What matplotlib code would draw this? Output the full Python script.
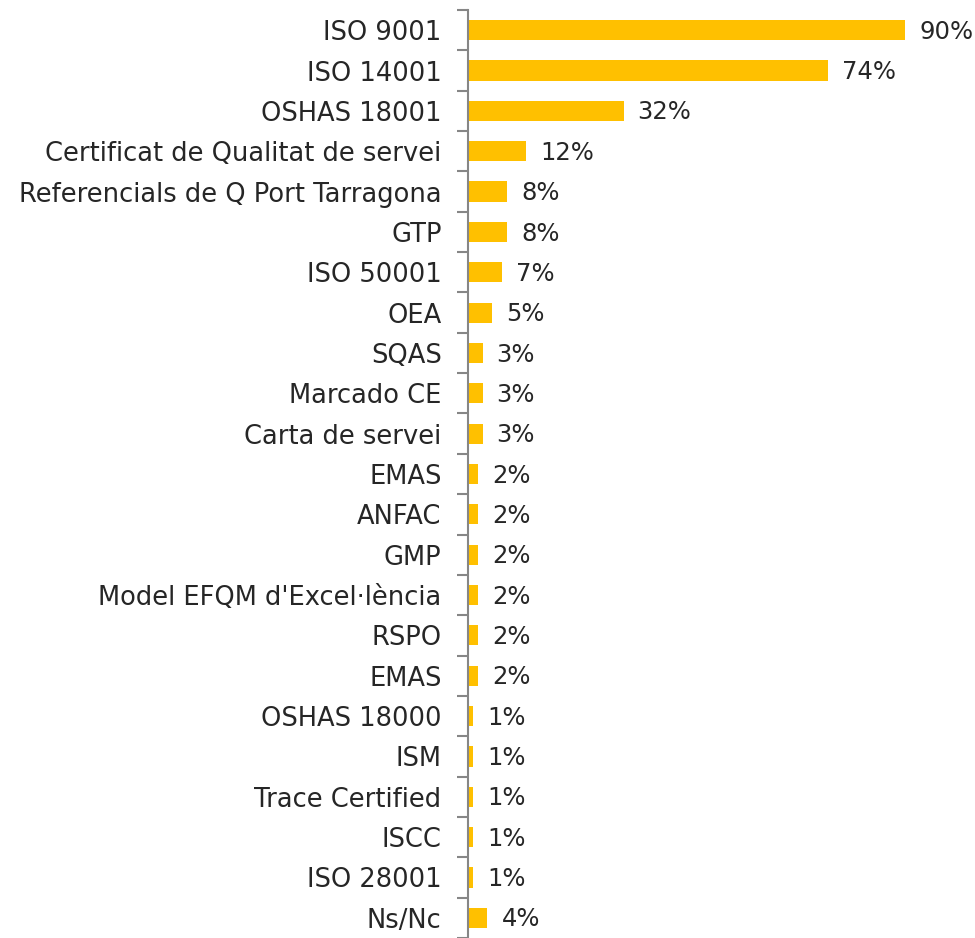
import matplotlib
matplotlib.use("Agg")
import matplotlib.pyplot as plt
import numpy as np

categories = ["ISO 9001", "ISO 14001", "OSHAS 18001", "Certificat de Qualitat de servei",
              "Referencials de Q Port Tarragona", "GTP", "ISO 50001", "OEA", "SQAS",
              "Marcado CE", "Carta de servei", "EMAS", "ANFAC", "GMP",
              "Model EFQM d'Excel·lència", "RSPO", "EMAS", "OSHAS 18000", "ISM",
              "Trace Certified", "ISCC", "ISO 28001", "Ns/Nc"]
values = [90, 74, 32, 12, 8, 8, 7, 5, 3, 3, 3, 2, 2, 2, 2, 2, 2, 1, 1, 1, 1, 1, 4]
value_labels = ["90%", "74%", "32%", "12%", "8%", "8%", "7%", "5%", "3%", "3%", "3%",
                "2%", "2%", "2%", "2%", "2%", "2%", "1%", "1%", "1%", "1%", "1%", "4%"]

plt.rcParams['font.family'] = ['DejaVu Sans']

fig = plt.figure(figsize=(9.75, 9.38), dpi=100)
ax = fig.add_axes([468/975, 0.0, 486/975, 1 - 10/938])

n = len(categories)
y = np.arange(n)
ax.barh(y, values, height=0.5, color="#FFC000")
ax.set_ylim(n - 0.5, -0.5)
ax.set_xlim(0, 100)

for yi, v, lab in zip(y, values, value_labels):
    ax.text(v + 2.9, yi + 0.04, lab, va="center", ha="left", fontsize=17.5, color="#262626")

ax.set_yticks(y)
ax.set_yticklabels(categories, fontsize=18.5, color="#262626")
ax.tick_params(axis="y", which="major", length=0, pad=19)
ax.set_yticks(np.arange(-0.5, n, 1), minor=True)
ax.tick_params(axis="y", which="minor", length=8, width=1.5, color="#868686", direction="out")
ax.set_xticks([])
for s in ["top", "right", "bottom"]:
    ax.spines[s].set_visible(False)
ax.spines["left"].set_color("#868686")
ax.spines["left"].set_linewidth(1.5)

fig.savefig("out.png", dpi=100)
